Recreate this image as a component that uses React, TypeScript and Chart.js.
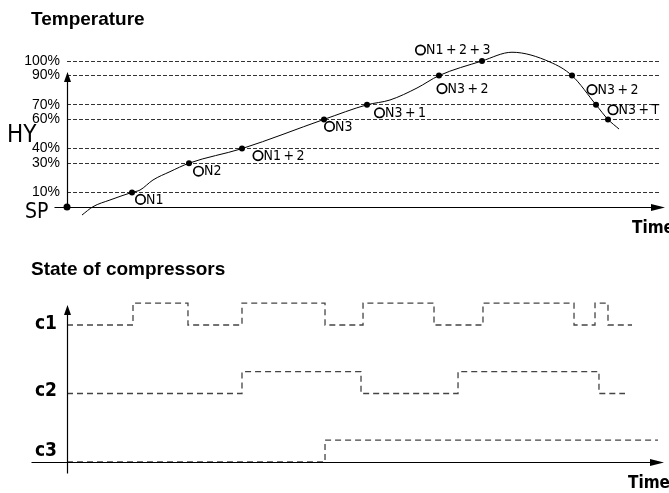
import React, { useEffect, useRef } from "react";
import { Chart, registerables } from "chart.js";

Chart.register(...registerables);

// ---------- data ----------
const TIME_MIN = 0;
const TIME_MAX = 100;

// temperature axis (percent of hysteresis band above set point)
const tempTicks = [0, 10, 30, 40, 60, 70, 90, 100];

// temperature curve over time
const curveTime = [2.53, 4.38, 7.25, 10.96, 12.31, 14.5, 17.37, 20.57, 29.51, 43.34, 50.59, 54.47, 59.02, 62.73, 69.98, 75.04, 81.45, 85.16, 89.21, 91.23, 93.09];
const curveTemp = [-5.5, 0.2, 4.8, 10, 11.6, 18.5, 24.2, 30, 40, 60, 70, 73.3, 81.5, 90, 100, 106, 99.3, 90, 70, 60, 53.4];

// switching points on the curve
const stepTime = [10.96, 20.57, 29.51, 43.34, 50.59, 62.73, 69.98, 85.16, 89.21, 91.23];
const stepTemp = [10, 30, 40, 60, 70, 90, 100, 90, 70, 60];
const stepLabels = ["ON1", "ON2", "ON1+2", "ON3", "ON3+1", "ON3+2", "ON1+2+3", "ON3+2", "ON3+T", ""];

// compressor states (0 = off, 1 = on), value holds from its time on
const compressorNames = ["c1", "c2", "c3"];
const c1Time = [0, 11.13, 20.4, 29.51, 43.51, 49.92, 61.89, 70.15, 85.5, 89.04, 91.23, 95.28];
const c1State = [0, 1, 0, 1, 0, 1, 0, 1, 0, 1, 0, 0];
const c2Time = [0, 29.51, 49.58, 65.94, 89.71, 94.1];
const c2State = [0, 1, 0, 1, 0, 0];
const c3Time = [0, 43.51, 99.66];
const c3State = [0, 1, 1];

// ---------- layout / style ----------
const SANS = '"Liberation Sans", Arial, Helvetica, sans-serif';
const NARROW = '"Liberation Sans Narrow", "DejaVu Sans Condensed", "Arial Narrow", "Liberation Sans", sans-serif';
const STATE_RISE = 0.32; // height of an "on" step relative to row spacing
const labelOffsets: [number, number][] = [
  [8.5, 7], [9.5, 8], [16, 7], [5.5, 7], [12.5, 8], [3, 13], [-61.5, -11], [20, 14], [17, 5], [0, 0],
];
const cLabelDy = [4, 2, -6];

const al = (v: number) => Math.round(v) + 0.5;

function arrowRight(ctx: CanvasRenderingContext2D, tipX: number, y: number) {
  ctx.beginPath();
  ctx.moveTo(tipX, y);
  ctx.lineTo(tipX - 14, y - 3.5);
  ctx.lineTo(tipX - 14, y + 3.5);
  ctx.closePath();
  ctx.fill();
}
function arrowUp(ctx: CanvasRenderingContext2D, x: number, tipY: number) {
  ctx.beginPath();
  ctx.moveTo(x, tipY);
  ctx.lineTo(x - 3.5, tipY + 10);
  ctx.lineTo(x + 3.5, tipY + 10);
  ctx.closePath();
  ctx.fill();
}

function drawOnLabel(ctx: CanvasRenderingContext2D, text: string, cx: number, cy: number) {
  ctx.beginPath();
  ctx.arc(cx, cy, 4.7, 0, Math.PI * 2);
  ctx.lineWidth = 1.7;
  ctx.strokeStyle = "#000";
  ctx.stroke();
  ctx.font = `14px ${NARROW}`;
  ctx.textAlign = "left";
  ctx.textBaseline = "middle";
  ctx.fillStyle = "#000";
  ctx.fillText(text.slice(1).replace(/\+/g, "\u2009+\u2009"), cx + 5.5, cy + 0.5);
}

const topDecor = {
  id: "topDecor",
  beforeDatasetsDraw(chart: any) {
    const { ctx, chartArea, scales } = chart;
    const x = scales.x, y = scales.y;
    const x0 = al(x.getPixelForValue(0));
    const y0 = al(y.getPixelForValue(0));
    const yTip = y.getPixelForValue(92.5);
    ctx.save();
    ctx.strokeStyle = "#000";
    ctx.fillStyle = "#000";
    ctx.lineWidth = 1.2;
    ctx.beginPath();
    ctx.moveTo(x0 - 13, y0);
    ctx.lineTo(chartArea.right + 2, y0);
    ctx.stroke();
    arrowRight(ctx, chartArea.right + 5, y0);
    ctx.beginPath();
    ctx.moveTo(x0, y0);
    ctx.lineTo(x0, yTip + 8);
    ctx.stroke();
    arrowUp(ctx, x0, yTip);
    ctx.restore();
  },
  afterDraw(chart: any) {
    const { ctx, scales } = chart;
    const x = scales.x, y = scales.y;
    ctx.save();
    ctx.fillStyle = "#000";
    ctx.textAlign = "left";
    ctx.textBaseline = "alphabetic";
    ctx.font = `bold 19px ${SANS}`;
    ctx.fillText("Temperature", 31, 25);
    ctx.font = `24px ${NARROW}`;
    ctx.fillText("HY", 7, 142);
    ctx.font = `21px ${NARROW}`;
    ctx.fillText("SP", 25, y.getPixelForValue(0) + 11);
    ctx.font = `bold 17px ${NARROW}`;
    ctx.fillText("Time", 632, 233);
    stepLabels.forEach((lab, i) => {
      if (!lab) return;
      const px = x.getPixelForValue(stepTime[i]);
      const py = y.getPixelForValue(stepTemp[i]);
      drawOnLabel(ctx, lab, px + labelOffsets[i][0], py + labelOffsets[i][1]);
    });
    ctx.restore();
  },
};

const bottomDecor = {
  id: "bottomDecor",
  afterDatasetsDraw(chart: any) {
    const { ctx, chartArea, scales } = chart;
    const x = scales.x, y = scales.y;
    const x0 = al(x.getPixelForValue(0));
    const y0 = al(y.getPixelForValue(0));
    const yTip = y.getPixelForValue(2) - 20;
    ctx.save();
    ctx.strokeStyle = "#000";
    ctx.fillStyle = "#000";
    ctx.lineWidth = 1.2;
    ctx.beginPath();
    ctx.moveTo(x0 - 36, y0);
    ctx.lineTo(chartArea.right + 1, y0);
    ctx.stroke();
    arrowRight(ctx, chartArea.right + 4, y0);
    ctx.beginPath();
    ctx.moveTo(x0, y0 + 11);
    ctx.lineTo(x0, yTip + 8);
    ctx.stroke();
    arrowUp(ctx, x0, yTip);
    ctx.restore();
  },
  afterDraw(chart: any) {
    const { ctx, scales } = chart;
    const y = scales.y;
    ctx.save();
    ctx.fillStyle = "#000";
    ctx.textBaseline = "alphabetic";
    ctx.textAlign = "left";
    ctx.font = `bold 19px ${SANS}`;
    ctx.fillText("State of compressors", 31, 30);
    ctx.font = `bold 17px ${NARROW}`;
    ctx.fillText("Time", 628, 243);
    ctx.textAlign = "right";
    ctx.font = `bold 19px ${NARROW}`;
    compressorNames.forEach((n, i) => {
      const row = compressorNames.length - 1 - i;
      ctx.fillText(n, 57, y.getPixelForValue(row) + cLabelDy[i]);
    });
    ctx.restore();
  },
};

export default function App() {
  const topRef = useRef<HTMLCanvasElement>(null);
  const botRef = useRef<HTMLCanvasElement>(null);

  useEffect(() => {
    const top = new Chart(topRef.current as HTMLCanvasElement, {
      type: "line",
      data: {
        datasets: [
          {
            data: curveTime.map((t, i) => ({ x: t, y: curveTemp[i] })),
            borderColor: "#000",
            borderWidth: 1,
            pointRadius: 0,
            cubicInterpolationMode: "monotone",
            clip: false as any,
          },
          {
            data: stepTime.map((t, i) => ({ x: t, y: stepTemp[i] })),
            showLine: false,
            pointRadius: 3,
            pointBackgroundColor: "#000",
            pointBorderWidth: 0,
            clip: false as any,
          },
          {
            data: [{ x: 0, y: 0 }],
            showLine: false,
            pointRadius: 3.5,
            pointBackgroundColor: "#000",
            pointBorderWidth: 0,
            clip: false as any,
          },
        ],
      },
      options: {
        animation: false,
        responsive: false,
        devicePixelRatio: 1,
        layout: { padding: { left: 0, right: 9, top: 61, bottom: 38 } },
        plugins: { legend: { display: false }, tooltip: { enabled: false }, title: { display: false } },
        scales: {
          x: { type: "linear", min: TIME_MIN, max: TIME_MAX, display: false },
          y: {
            type: "linear",
            min: 0,
            max: 100,
            position: "left",
            afterFit: (s: any) => {
              s.width = 67;
            },
            afterBuildTicks: (s: any) => {
              s.ticks = tempTicks.map((v) => ({ value: v }));
            },
            ticks: {
              autoSkip: false,
              padding: 7,
              color: "#000",
              font: { family: SANS, size: 14 },
              callback: (v: any) => (v === 0 ? "" : `${v}%`),
            },
            grid: {
              drawTicks: false,
              lineWidth: 1,
              color: (c: any) => (c.tick && c.tick.value === 0 ? "rgba(0,0,0,0)" : "#333"),
            },
            border: { display: false, dash: [4, 2] },
          },
        },
      },
      plugins: [topDecor],
    } as any);

    const times = [c1Time, c2Time, c3Time];
    const states = [c1State, c2State, c3State];
    const bot = new Chart(botRef.current as HTMLCanvasElement, {
      type: "line",
      data: {
        datasets: compressorNames.map((n, k) => {
          const row = compressorNames.length - 1 - k;
          return {
            label: n,
            data: times[k].map((t, i) => ({ x: t, y: row + states[k][i] * STATE_RISE })),
            stepped: true,
            borderColor: "#444",
            borderWidth: 1.3,
            borderDash: [6, 4],
            pointRadius: 0,
            clip: false as any,
          };
        }),
      },
      options: {
        animation: false,
        responsive: false,
        devicePixelRatio: 1,
        layout: { padding: { left: 67, right: 9, top: 11.5, bottom: 31 } },
        plugins: { legend: { display: false }, tooltip: { enabled: false }, title: { display: false } },
        scales: {
          x: { type: "linear", min: TIME_MIN, max: TIME_MAX, display: false },
          y: { type: "linear", min: 0, max: 3, display: false },
        },
      },
      plugins: [bottomDecor],
    } as any);

    return () => {
      top.destroy();
      bot.destroy();
    };
  }, []);

  return (
    <div style={{ position: "fixed", left: 0, top: 0, width: 669, height: 493, background: "#fff" }}>
      <canvas ref={topRef} width={669} height={245} style={{ position: "absolute", left: 0, top: 0 }} />
      <canvas ref={botRef} width={669} height={248} style={{ position: "absolute", left: 0, top: 245 }} />
    </div>
  );
}
